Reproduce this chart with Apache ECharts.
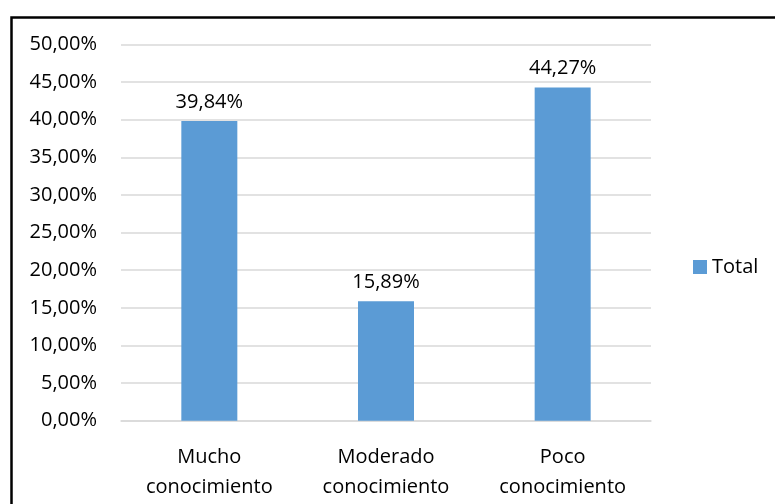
<!DOCTYPE html>
<html>
<head>
<meta charset="utf-8">
<script src="https://cdn.jsdelivr.net/npm/echarts@6/dist/echarts.min.js"></script>
<style>
html,body{margin:0;padding:0;background:#fff;}
#c{width:775px;height:504px;}
</style>
</head>
<body>
<div id="c"></div>
<script>
var categories = ['Mucho\nconocimiento', 'Moderado\nconocimiento', 'Poco\nconocimiento'];
var totalValues = [39.84, 15.89, 44.27];
var seriesName = 'Total';

function pct(v){ return v.toFixed(2).replace('.', ',') + '%'; }

var chart = echarts.init(document.getElementById('c'));
var font = "'Open Sans', 'Noto Sans', sans-serif";
chart.setOption({
  animation: false,
  textStyle: { fontFamily: font },
  graphic: [{
    type: 'rect', left: 9, top: 15,
    shape: { width: 800, height: 600 },
    style: { fill: 'none', stroke: '#000', lineWidth: 2.5 },
    silent: true
  }],
  legend: {
    data: [seriesName],
    left: 693, top: 257, padding: 0,
    itemWidth: 14, itemHeight: 14, itemGap: 6,
    icon: 'rect',
    textStyle: { fontSize: 20, color: '#000', fontFamily: font }
  },
  grid: { left: 121, right: 124, top: 44.5, bottom: 83.3, containLabel: false },
  xAxis: {
    type: 'category',
    data: categories,
    axisLine: { lineStyle: { color: '#D9D9D9', width: 1.5 } },
    axisTick: { show: false },
    axisLabel: { fontSize: 20, color: '#000', margin: 22, lineHeight: 30, fontFamily: font }
  },
  yAxis: {
    type: 'value',
    min: 0, max: 50, interval: 5,
    axisLine: { show: false },
    axisTick: { show: false },
    splitLine: { lineStyle: { color: '#D9D9D9', width: 1.5 } },
    axisLabel: { fontSize: 20, color: '#000', margin: 24, formatter: function(v){ return pct(v); }, fontFamily: font }
  },
  series: [{
    name: seriesName,
    type: 'bar',
    data: totalValues,
    barWidth: '31.7%',
    itemStyle: { color: '#5B9BD5' },
    label: {
      show: true, position: 'top', distance: 9,
      fontSize: 20, color: '#000', fontFamily: font,
      formatter: function(p){ return pct(p.value); }
    }
  }]
});
</script>
</body>
</html>
